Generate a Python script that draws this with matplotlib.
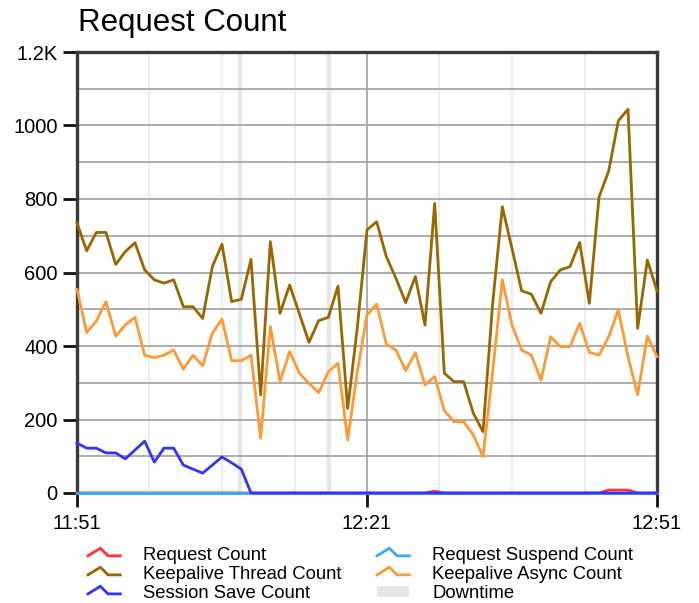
import numpy as np
import pandas as pd
import matplotlib
matplotlib.use('Agg')
import matplotlib.pyplot as plt
import matplotlib.dates as mdates
from matplotlib.lines import Line2D
from matplotlib.patches import Patch
from matplotlib.legend_handler import HandlerBase
from matplotlib.ticker import FuncFormatter, MultipleLocator

plt.rcParams['font.family'] = ['Liberation Sans', 'DejaVu Sans']

# 每分钟一个点, 11:51 - 12:51
times = pd.date_range('2024-01-01 11:51', '2024-01-01 12:51', freq='1min')

request_count = [0] * 61
request_count[37] = 5
request_count[55] = 8
request_count[56] = 8
request_count[57] = 8

request_suspend = [0] * 61

keepalive_thread = [735, 659, 709, 709, 622, 657, 681, 607, 580, 571,
                    580, 507, 507, 475, 616, 677, 521, 527, 636, 267,
                    684, 489, 566, 488, 410, 469, 478, 563, 230, 450,
                    716, 738, 643, 584, 518, 589, 457, 788, 326, 303,
                    303, 217, 167, 516, 779, 665, 550, 541, 489, 575,
                    607, 616, 682, 516, 805, 876, 1013, 1044, 448, 634,
                    550]

keepalive_async = [554, 437, 468, 521, 427, 457, 478, 375, 368, 375,
                   389, 337, 375, 346, 435, 473, 360, 360, 375, 149,
                   453, 303, 385, 326, 298, 273, 330, 353, 144, 330,
                   484, 514, 405, 389, 333, 382, 294, 317, 224, 194,
                   194, 158, 99, 330, 580, 457, 389, 375, 307, 425,
                   398, 398, 462, 383, 375, 425, 498, 371, 267, 427,
                   371]

session_save = [136, 122, 122, 109, 109, 93, 117, 141, 84, 122,
                122, 76, 65, 54, 76, 98, 82, 65] + [0] * 43

downtime = [('2024-01-01 12:07:40', '2024-01-01 12:08:04'),
            ('2024-01-01 12:16:50', '2024-01-01 12:17:14')]


class ZigHandler(HandlerBase):
    # 图例里的小折线 /\_
    def create_artists(self, legend, orig_handle, xdescent, ydescent,
                       width, height, fontsize, trans):
        xs = np.array([0.0, 0.38, 0.62, 1.0]) * width - xdescent
        ys = np.array([0.3, 0.95, 0.3, 0.3]) * height - ydescent
        ln = Line2D(xs, ys, color=orig_handle.get_color(),
                    lw=orig_handle.get_linewidth(), solid_joinstyle='miter')
        ln.set_transform(trans)
        return [ln]


fig = plt.figure(figsize=(6.99, 6.03), dpi=100)
ax = fig.add_axes([77 / 699, 1 - 493 / 603, 580 / 699, 441 / 603])

# 停机时间
for a, b in downtime:
    ax.axvspan(pd.Timestamp(a), pd.Timestamp(b), color='#e5e5e5', lw=0, zorder=0)

series = [
    ('Request Count', request_count, '#ff3333'),
    ('Request Suspend Count', request_suspend, '#33aaff'),
    ('Keepalive Thread Count', keepalive_thread, '#996600'),
    ('Keepalive Async Count', keepalive_async, '#ff9933'),
    ('Session Save Count', session_save, '#3333ff'),
]
lines = {}
for name, vals, col in series:
    ln, = ax.plot(times, vals, color=col, lw=2.0, label=name, clip_on=False, zorder=3)
    lines[name] = ln

ax.set_xlim(times[0], times[-1])
ax.set_ylim(0, 1200)

# x 轴
ax.set_xticks(pd.date_range(times[0], times[-1], freq='30min'))
ax.set_xticks(pd.date_range(times[0], times[-1], freq='450s'), minor=True)
ax.xaxis.set_major_formatter(mdates.DateFormatter('%H:%M'))

# y 轴
ax.yaxis.set_major_locator(MultipleLocator(200))
ax.yaxis.set_minor_locator(MultipleLocator(100))
ax.yaxis.set_major_formatter(FuncFormatter(lambda v, p: '1.2K' if v >= 1200 else '%d' % v))

ax.grid(which='both', axis='y', color='#a0a0a0', lw=1.2, zorder=1)
ax.grid(which='minor', axis='x', color='#eaeaea', lw=1.2, zorder=1)
ax.grid(which='major', axis='x', color='#a0a0a0', lw=1.2, zorder=1)
ax.set_axisbelow(True)

ax.tick_params(which='major', length=10, width=2, color='#111111', labelsize=14.5, pad=4)
ax.tick_params(which='minor', length=0)
ax.tick_params(axis='x', pad=5)

for s in ['left', 'right', 'top']:
    ax.spines[s].set_color('#3a3a3a')
    ax.spines[s].set_linewidth(2.4)
ax.spines['bottom'].set_visible(False)

fig.text(78 / 699, 1 - 31 / 603, 'Request Count', fontsize=22.5, ha='left', va='baseline')

handles = [lines['Request Count'], lines['Keepalive Thread Count'], lines['Session Save Count'],
           lines['Request Suspend Count'], lines['Keepalive Async Count'],
           Patch(facecolor='#e5e5e5', edgecolor='none', label='Downtime')]
fig.legend(handles=handles, labels=[h.get_label() for h in handles], ncol=2,
           loc='upper left', bbox_to_anchor=(88 / 699, 1 - 547 / 603),
           frameon=False, fontsize=13.3, borderpad=0, borderaxespad=0,
           handlelength=1.75, handleheight=0.6, handletextpad=1.25, columnspacing=1.9,
           labelspacing=0.11, handler_map={Line2D: ZigHandler()})

fig.savefig('out.png', dpi=100)
